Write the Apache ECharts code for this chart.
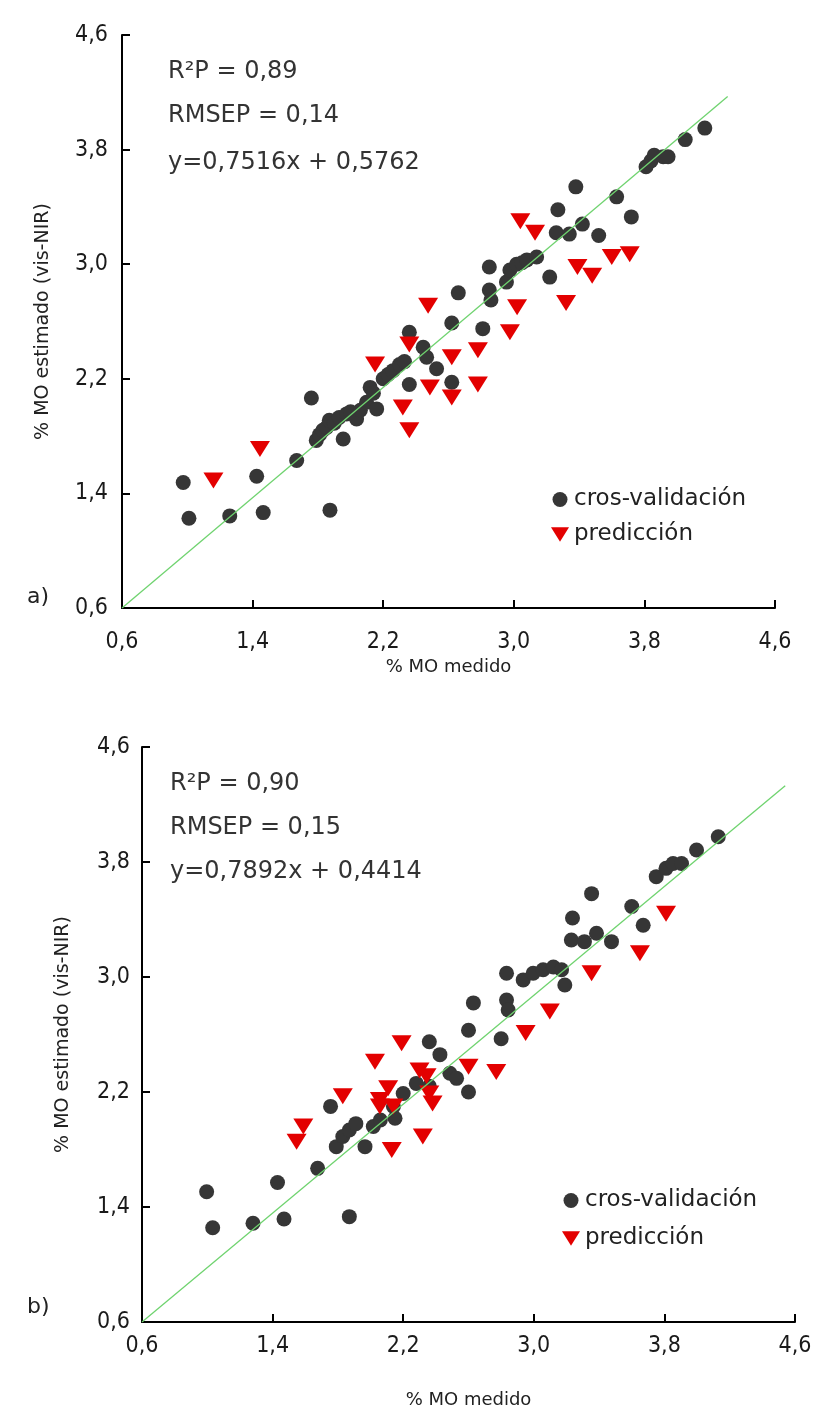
<!DOCTYPE html>
<html>
<head>
<meta charset="utf-8">
<script src="https://cdn.jsdelivr.net/npm/echarts@6/dist/echarts.min.js"></script>
<style>
html,body{margin:0;padding:0;background:#fff;}
#c{width:816px;height:1421px;}
</style>
</head>
<body>
<div id="c"></div>
<script>
// ---- data ----
var tickValues = [0.6, 1.4, 2.2, 3.0, 3.8, 4.6];
var tickLabels = ['0,6', '1,4', '2,2', '3,0', '3,8', '4,6'];
var seriesNames = ['cros-validación', 'predicción'];
var xTitle = '% MO medido';
var yTitle = '% MO estimado (vis-NIR)';
var statsA = ['R²P = 0,89', 'RMSEP = 0,14', 'y=0,7516x + 0,5762'];
var statsB = ['R²P = 0,90', 'RMSEP = 0,15', 'y=0,7892x + 0,4414'];
var panelLabels = ['a)', 'b)'];

var cvA = [[0.975,1.476],[1.01,1.227],[1.26,1.243],[1.425,1.52],[1.465,1.266],[1.874,1.283],[1.67,1.63],[1.76,2.066],
  [1.79,1.77],[1.81,1.81],[1.83,1.84],[1.854,1.861],[1.87,1.91],[1.9,1.89],[1.93,1.93],[1.955,1.78],[1.976,1.955],[2.0,1.97],
  [2.037,1.92],[2.06,1.98],[2.098,2.036],[2.12,2.14],[2.14,2.1],[2.16,1.99],[2.2,2.2],[2.23,2.23],[2.26,2.257],[2.30,2.30],
  [2.33,2.32],[2.36,2.16],[2.36,2.525],[2.445,2.42],[2.466,2.35],[2.527,2.27],[2.62,2.176],[2.62,2.59],[2.66,2.8],
  [2.81,2.55],[2.85,2.82],[2.86,2.75],[2.85,2.98],[2.955,2.875],[2.976,2.96],[3.017,3.0],[3.05,3.01],[3.08,3.03],[3.14,3.05],
  [3.22,2.91],[3.26,3.22],[3.34,3.21],[3.42,3.28],[3.52,3.20],[3.27,3.38],[3.38,3.54],[3.63,3.47],[3.72,3.33],
  [3.81,3.68],[3.84,3.72],[3.86,3.76],[3.915,3.75],[3.945,3.75],[4.05,3.87],[4.17,3.95]];
var predA = [[1.16,1.49],[1.445,1.71],[2.15,2.30],[2.32,2.0],[2.36,1.84],[2.36,2.44],[2.486,2.14],[2.475,2.71],
  [2.62,2.07],[2.62,2.35],[2.78,2.4],[2.78,2.16],[2.976,2.525],[3.02,2.70],[3.04,3.30],[3.13,3.22],[3.32,2.73],
  [3.39,2.98],[3.48,2.92],[3.60,3.05],[3.71,3.07]];
var lineA = [[0.6,0.6],[4.31,4.17]];

var cvB = [[0.996,1.506],[1.033,1.256],[1.28,1.287],[1.43,1.57],[1.47,1.317],[1.87,1.333],[1.676,1.669],[1.755,2.10],
  [1.79,1.82],[1.83,1.89],[1.87,1.936],[1.91,1.98],[1.966,1.82],[2.017,1.96],[2.06,2.005],[2.15,2.017],[2.14,2.10],
  [2.2,2.19],[2.28,2.26],[2.36,2.24],[2.36,2.55],[2.425,2.46],[2.486,2.33],[2.527,2.295],[2.6,2.2],[2.6,2.63],
  [2.63,2.82],[2.80,2.57],[2.833,2.84],[2.843,2.77],[2.833,3.026],[2.935,2.98],[2.996,3.026],[3.057,3.05],[3.12,3.07],
  [3.17,3.05],[3.19,2.944],[3.23,3.257],[3.31,3.246],[3.384,3.304],[3.476,3.246],[3.237,3.41],[3.354,3.58],
  [3.6,3.49],[3.67,3.36],[3.75,3.698],[3.81,3.756],[3.853,3.79],[3.905,3.79],[3.997,3.883],[4.13,3.976]];
var predB = [[1.547,1.854],[1.588,1.96],[1.83,2.17],[2.027,2.41],[2.19,2.54],[2.057,2.10],[2.057,2.144],[2.108,2.226],
  [2.14,2.10],[2.13,1.796],[2.30,2.35],[2.343,2.31],[2.36,2.19],[2.38,2.12],[2.32,1.89],[2.6,2.376],[2.77,2.34],
  [2.95,2.61],[3.098,2.76],[3.354,3.026],[3.65,3.165],[3.81,3.44]];
var lineB = [[0.6,0.6],[4.54,4.33]];

// ---- chart ----
var FONT = '"DejaVu Sans", "Liberation Sans", sans-serif';
var TICKFONT = '"Liberation Sans Narrow", "DejaVu Sans Condensed", "Liberation Sans", sans-serif';
var DARK = '#363636';
var RED = '#e30000';
var GREEN = '#6fd36f';
var TRI = 'path://M0,0 L20,0 L10,16 Z';

function fmt(v) {
  for (var i = 0; i < tickValues.length; i++) {
    if (Math.abs(v - tickValues[i]) < 1e-6) return tickLabels[i];
  }
  return '';
}
function xAx(g, labelMargin, gap) {
  return {
    gridIndex: g, type: 'value', min: 0.6, max: 4.6, interval: 0.8,
    axisLine: { show: true, onZero: false, lineStyle: { color: '#000', width: 2 } },
    axisTick: { show: true, inside: true, length: 8, lineStyle: { color: '#000', width: 2 } },
    splitLine: { show: false },
    axisLabel: { formatter: fmt, fontSize: 23, color: '#1a1a1a', margin: labelMargin, fontFamily: TICKFONT },
    name: xTitle, nameLocation: 'middle', nameGap: gap,
    nameTextStyle: { fontSize: 18, color: '#222', fontFamily: FONT }
  };
}
function yAx(g, labelMargin) {
  return {
    gridIndex: g, type: 'value', min: 0.6, max: 4.6, interval: 0.8,
    axisLine: { show: true, onZero: false, lineStyle: { color: '#000', width: 2 } },
    axisTick: { show: true, inside: true, length: 8, lineStyle: { color: '#000', width: 2 } },
    splitLine: { show: false },
    axisLabel: { formatter: fmt, fontSize: 23, color: '#1a1a1a', margin: labelMargin, fontFamily: TICKFONT },
    name: yTitle, nameLocation: 'middle', nameGap: 69,
    nameTextStyle: { fontSize: 19, color: '#222', fontFamily: FONT }
  };
}
function scat(name, data, g, isTri) {
  return {
    name: name, type: 'scatter', xAxisIndex: g, yAxisIndex: g, data: data,
    symbol: isTri ? TRI : 'circle', symbolSize: isTri ? [20, 16] : 15,
    itemStyle: { color: isTri ? RED : DARK, opacity: 1 },
    z: isTri ? 3 : 2, silent: true
  };
}
function fit(data, g) {
  return {
    type: 'line', xAxisIndex: g, yAxisIndex: g, data: data, symbol: 'none',
    lineStyle: { color: GREEN, width: 1.3 }, z: 5, silent: true
  };
}
function statText(lines, x, ys) {
  return lines.map(function (t, i) {
    return { type: 'text', x: x, y: ys[i],
      style: { text: t, fontSize: 24, fill: '#333', fontFamily: FONT, verticalAlign: 'middle', align: 'left' } };
  });
}

var option = {
  animation: false,
  backgroundColor: '#fff',
  grid: [
    { left: 122, top: 35, width: 653, height: 573 },
    { left: 142, top: 747, width: 653, height: 575 }
  ],
  xAxis: [xAx(0, 23, 50), xAx(1, 13, 69)],
  yAxis: [yAx(0, 14), yAx(1, 12)],
  legend: [
    { data: [{ name: seriesNames[0], icon: 'circle' }, { name: seriesNames[1], icon: TRI }],
      orient: 'vertical', left: 546, top: 483, itemWidth: 18, itemHeight: 15, itemGap: 12,
      textStyle: { fontSize: 23, color: '#222', fontFamily: FONT }, selectedMode: false },
    { data: [{ name: seriesNames[0], icon: 'circle' }, { name: seriesNames[1], icon: TRI }],
      orient: 'vertical', left: 557, top: 1184, itemWidth: 18, itemHeight: 15, itemGap: 15,
      textStyle: { fontSize: 23, color: '#222', fontFamily: FONT }, selectedMode: false }
  ],
  graphic: [].concat(
    statText(statsA, 168, [72, 116, 163]),
    statText(statsB, 170, [784, 828, 872]),
    [
      { type: 'text', x: 27, y: 597, style: { text: panelLabels[0], fontSize: 22, fill: '#222', fontFamily: FONT, verticalAlign: 'middle' } },
      { type: 'text', x: 27, y: 1307, style: { text: panelLabels[1], fontSize: 22, fill: '#222', fontFamily: FONT, verticalAlign: 'middle' } }
    ]
  ),
  series: [
    scat(seriesNames[0], cvA, 0, false),
    scat(seriesNames[1], predA, 0, true),
    fit(lineA, 0),
    scat(seriesNames[0], cvB, 1, false),
    scat(seriesNames[1], predB, 1, true),
    fit(lineB, 1)
  ]
};
var chart = echarts.init(document.getElementById('c'), null, { renderer: 'canvas' });
chart.setOption(option);
</script>
</body>
</html>
